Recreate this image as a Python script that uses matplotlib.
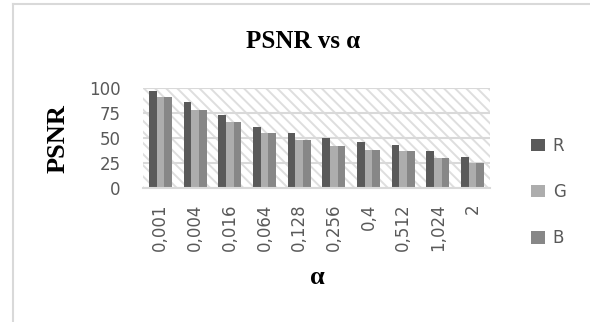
import matplotlib
matplotlib.use("Agg")
from matplotlib import pyplot as plt
from matplotlib.patches import Rectangle
from matplotlib.lines import Line2D
import numpy as np

alphas = ["0,001", "0,004", "0,016", "0,064", "0,128", "0,256", "0,4", "0,512", "1,024", "2"]
psnr_r = [97.6, 86.0, 73.3, 61.6, 55.0, 50.0, 46.0, 43.3, 37.3, 31.6]
psnr_g = [91.0, 78.3, 66.6, 55.0, 48.3, 42.3, 38.3, 37.3, 30.6, 25.6]
psnr_b = [91.0, 78.3, 66.6, 55.0, 48.3, 42.3, 38.3, 37.3, 30.6, 25.6]
channels = ["R", "G", "B"]
colors = ["#5a5a5a", "#adadad", "#878787"]

W, H = 590, 322
plt.rcParams["hatch.linewidth"] = 1.4
fig = plt.figure(figsize=(W / 100, H / 100), dpi=100)
ax = fig.add_axes([143 / W, 1 - 188.3 / H, (490 - 143) / W, 100 / H])

# hatched plot area background
ax.add_patch(Rectangle((0, 0), 1, 1, transform=ax.transAxes, facecolor="white",
                       edgecolor="#dedede", linewidth=0, hatch="\\\\\\", zorder=0))

x = np.arange(len(alphas))
w = 0.22
for i, (vals, c, lab) in enumerate(zip([psnr_r, psnr_g, psnr_b], colors, channels)):
    ax.bar(x + (i - 1) * w, vals, width=w, color=c, label=lab, zorder=3, linewidth=0)

ax.set_xlim(-0.5, len(alphas) - 0.5)
ax.set_ylim(0, 100)
ax.set_yticks([0, 25, 50, 75, 100])
ax.set_xticks(x)
ax.set_xticklabels(alphas, rotation=90, va="top", ha="center")
ax.tick_params(axis="both", length=0, labelsize=12, labelcolor="#595959")
ax.tick_params(axis="x", pad=11)
ax.tick_params(axis="y", pad=16)
for t in ax.get_xticklabels() + ax.get_yticklabels():
    t.set_fontfamily("DejaVu Sans")

ax.yaxis.grid(True, color="#d9d9d9", linewidth=1.5, zorder=1)
ax.set_axisbelow(False)
for s in ["top", "right", "left"]:
    ax.spines[s].set_visible(False)
ax.spines["bottom"].set_color("#d9d9d9")
ax.spines["bottom"].set_linewidth(1.5)
ax.spines["bottom"].set_zorder(4)

serif = "Liberation Serif"
fig.text(303 / W, 1 - 42 / H, "PSNR vs α", fontsize=18, fontweight="bold",
         family=serif, ha="center", va="center")
fig.text(58 / W, 1 - 139 / H, "PSNR", fontsize=19, fontweight="bold",
         family=serif, ha="center", va="center", rotation=90)
fig.text(317 / W, 1 - 278 / H, "α", fontsize=19, fontweight="bold",
         family=serif, ha="center", va="center")

fig.legend(loc="center left", bbox_to_anchor=(531 / W, 1 - 192 / H), frameon=False,
           fontsize=12, labelcolor="#595959", handlelength=0.85, handleheight=0.75,
           handletextpad=0.45, labelspacing=1.7, borderpad=0, borderaxespad=0)

# chart frame edges
fig.add_artist(Line2D([13 / W, 1], [1 - 4 / H, 1 - 4 / H], color="#d9d9d9", linewidth=1.5))
fig.add_artist(Line2D([13 / W, 13 / W], [0, 1 - 4 / H], color="#d9d9d9", linewidth=1.5))

fig.savefig("out.png", dpi=100)
